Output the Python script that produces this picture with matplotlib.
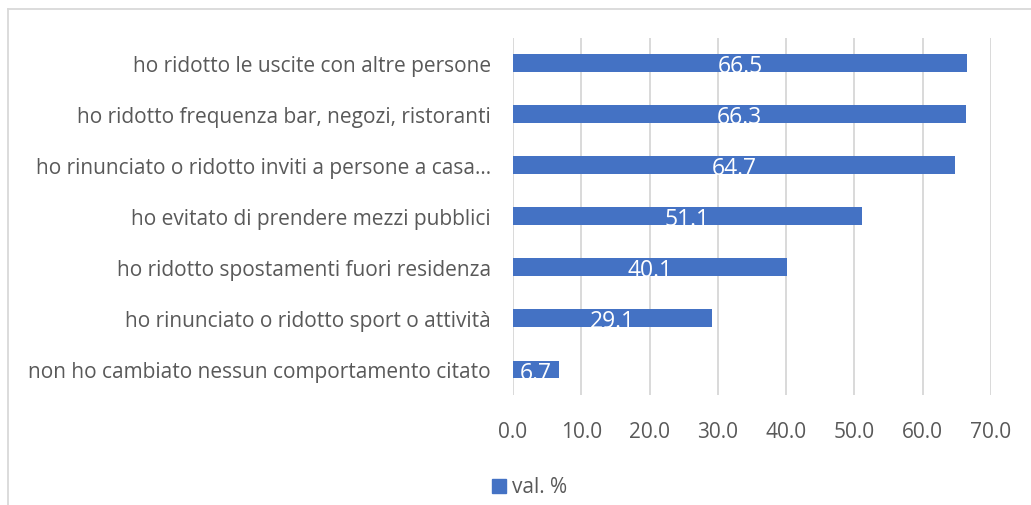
import matplotlib
matplotlib.use("Agg")
import matplotlib.pyplot as plt
from matplotlib.patches import Rectangle
from matplotlib.lines import Line2D

categories = [
    "ho ridotto le uscite con altre persone",
    "ho ridotto frequenza bar, negozi, ristoranti",
    "ho rinunciato o ridotto inviti a persone a casa…",
    "ho evitato di prendere mezzi pubblici",
    "ho ridotto spostamenti fuori residenza",
    "ho rinunciato o ridotto sport o attività",
    "non ho cambiato nessun comportamento citato",
]
values = [66.5, 66.3, 64.7, 51.1, 40.1, 29.1, 6.7]
xticks = [0, 10, 20, 30, 40, 50, 60, 70]
series_name = "val. %"

FONT = "Open Sans"
plt.rcParams["font.family"] = [FONT, "DejaVu Sans"]

W, H = 1031, 506
fig = plt.figure(figsize=(W / 100, H / 100), dpi=100)
ax = fig.add_axes([513 / W, 1 - 396 / H, (991 - 513) / W, (396 - 38.5) / H])

bar_color = "#4472C4"
text_color = "#595959"
grid_color = "#D9D9D9"

ypos = list(range(len(categories)))
bars = ax.barh(ypos, values, height=0.35, color=bar_color, zorder=3)
ax.set_ylim(len(categories) - 0.5, -0.5)
ax.set_xlim(0, 70)
ax.set_xticks(xticks)
ax.set_xticklabels([f"{v:.1f}" for v in xticks], fontsize=15, color=text_color)
ax.set_yticks(ypos)
ax.set_yticklabels(categories, fontsize=15, color=text_color)
ax.tick_params(axis="both", length=0)
ax.tick_params(axis="y", pad=16)
ax.tick_params(axis="x", pad=19)
ax.grid(axis="x", color=grid_color, linewidth=1.4, zorder=0)
for s in ax.spines.values():
    s.set_visible(False)

for b, v in zip(bars, values):
    t = ax.text(v / 2, b.get_y() + b.get_height() / 2 + 0.06, f"{v:.1f}",
                ha="center", va="center", color="white", fontsize=16.5, zorder=4)
    t.set_clip_path(b)

# legend
fig.patches.append(Rectangle((492 / W, 1 - 494 / H), 14 / W, 14 / H,
                             transform=fig.transFigure, color=bar_color))
fig.text(512 / W, 1 - 488 / H, series_name, ha="left", va="center",
         fontsize=15, color=text_color)

# chart border (left and top visible)
fig.add_artist(Line2D([8 / W, 8 / W], [0, 1 - 10 / H], transform=fig.transFigure,
                      color=grid_color, linewidth=1.3))
fig.add_artist(Line2D([8 / W, 1], [1 - 10 / H, 1 - 10 / H], transform=fig.transFigure,
                      color=grid_color, linewidth=1.3))

fig.savefig("out.png", dpi=100, facecolor="white")
